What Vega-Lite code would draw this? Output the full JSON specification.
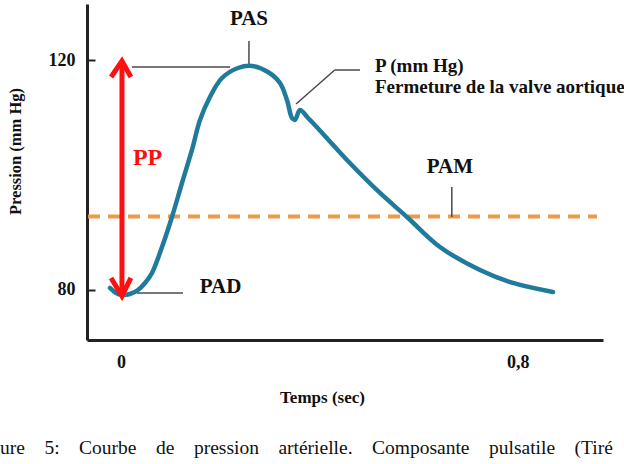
{
  "$schema": "https://vega.github.io/schema/vega-lite/v6.json",
  "autosize": {"type": "none"},
  "padding": {"left": 87, "top": 4, "right": 21, "bottom": 124},
  "width": 516,
  "height": 336,
  "background": "white",
  "config": {"view": {"stroke": null}, "font": "Liberation Serif, Times New Roman, serif"},
  "title": {
    "text": "Figure\u00a0\u00a0\u00a0\u00a05:\u00a0\u00a0\u00a0\u00a0Courbe\u00a0\u00a0\u00a0\u00a0de\u00a0\u00a0\u00a0\u00a0pression\u00a0\u00a0\u00a0\u00a0artérielle.\u00a0\u00a0\u00a0\u00a0Composante\u00a0\u00a0\u00a0\u00a0pulsatile\u00a0\u00a0\u00a0\u00a0(Tiré",
    "orient": "bottom",
    "anchor": "start",
    "frame": "group",
    "dx": -113,
    "offset": 49,
    "baseline": "alphabetic",
    "font": "Liberation Serif, Times New Roman, serif",
    "fontSize": 19.5,
    "fontWeight": "normal",
    "color": "#111"
  },
  "datasets": {
    "curve": [
      {"t": -0.0222, "p": 80.35},
      {"t": -0.0101, "p": 79.48},
      {"t": 0.0020, "p": 79.13},
      {"t": 0.0181, "p": 79.30},
      {"t": 0.0343, "p": 80.00},
      {"t": 0.0484, "p": 81.22},
      {"t": 0.0625, "p": 82.96},
      {"t": 0.0827, "p": 87.48},
      {"t": 0.1028, "p": 92.70},
      {"t": 0.1230, "p": 98.61},
      {"t": 0.1431, "p": 104.35},
      {"t": 0.1593, "p": 109.57},
      {"t": 0.1794, "p": 113.57},
      {"t": 0.2036, "p": 116.87},
      {"t": 0.2359, "p": 118.61},
      {"t": 0.2641, "p": 118.96},
      {"t": 0.2964, "p": 117.91},
      {"t": 0.3206, "p": 116.00},
      {"t": 0.3347, "p": 113.04},
      {"t": 0.3448, "p": 109.91},
      {"t": 0.3508, "p": 109.57},
      {"t": 0.3609, "p": 111.30},
      {"t": 0.3770, "p": 109.91},
      {"t": 0.3871, "p": 109.04},
      {"t": 0.4556, "p": 102.61},
      {"t": 0.5222, "p": 96.87},
      {"t": 0.5766, "p": 92.70},
      {"t": 0.6431, "p": 87.48},
      {"t": 0.7238, "p": 83.48},
      {"t": 0.7903, "p": 81.22},
      {"t": 0.8710, "p": 79.65}
    ],
    "leaders": [
      {"t": 0.022, "p": 118.78, "t2": 0.220, "p2": 118.78},
      {"t": 0.258, "p": 123.3, "t2": 0.258, "p2": 119.13},
      {"t": 0.353, "p": 112.35, "t2": 0.431, "p2": 118.26},
      {"t": 0.431, "p": 118.26, "t2": 0.482, "p2": 118.26},
      {"t": 0.667, "p": 97.9, "t2": 0.667, "p2": 92.7},
      {"t": 0.032, "p": 79.48, "t2": 0.125, "p2": 79.48}
    ],
    "pam": [{"t": -0.0665, "t2": 0.9597, "p": 92.8}],
    "shaft": [{"t": 0.002, "p": 119.4, "p2": 79.4}],
    "heads": [
      {"head": "top", "k": 1, "t": -0.020, "p": 117.04},
      {"head": "top", "k": 2, "t": 0.002, "p": 119.83},
      {"head": "top", "k": 3, "t": 0.020, "p": 117.04},
      {"head": "bottom", "k": 1, "t": -0.020, "p": 82.09},
      {"head": "bottom", "k": 2, "t": 0.002, "p": 78.96},
      {"head": "bottom", "k": 3, "t": 0.020, "p": 82.09}
    ],
    "bigLabels": [
      {"label": "PAS", "t": 0.258, "p": 126.1},
      {"label": "PAM", "t": 0.663, "p": 100.35}
    ],
    "padLabel": [{"label": "PAD", "t": 0.159, "p": 79.48}],
    "noteLabels": [
      {"label": "P (mm Hg)", "t": 0.512, "p": 117.9},
      {"label": "Fermeture de la valve aortique", "t": 0.512, "p": 114.3}
    ],
    "ppLabel": [{"label": "PP", "t": 0.024, "p": 101.74}]
  },
  "encoding": {
    "x": {
      "field": "t",
      "type": "quantitative",
      "scale": {"domain": [-0.0685, 0.9718], "nice": false, "zero": false},
      "axis": {
        "title": "Temps (sec)",
        "values": [0, 0.8],
        "labelExpr": "datum.value == 0 ? '0' : '0,8'",
        "grid": false,
        "ticks": false,
        "domainColor": "#222",
        "domainWidth": 3,
        "labelFont": "Liberation Serif, Times New Roman, serif",
        "labelFontSize": 18,
        "labelFontWeight": "bold",
        "labelColor": "#111",
        "labelPadding": 13,
        "labelFlush": false,
        "labelOverlap": false,
        "titleFont": "Liberation Serif, Times New Roman, serif",
        "titleFontSize": 17,
        "titleFontWeight": "bold",
        "titleColor": "#111",
        "titleX": 235,
        "titleY": 62,
        "titleBaseline": "alphabetic"
      }
    },
    "y": {
      "field": "p",
      "type": "quantitative",
      "scale": {"domain": [71.3, 129.74], "nice": false, "zero": false},
      "axis": {
        "title": "Pression (mm Hg)",
        "values": [80, 120],
        "grid": false,
        "tickSize": -8,
        "tickWidth": 2,
        "tickColor": "#222",
        "domainColor": "#222",
        "domainWidth": 3,
        "labelFont": "Liberation Serif, Times New Roman, serif",
        "labelFontSize": 18,
        "labelFontWeight": "bold",
        "labelColor": "#111",
        "labelPadding": 20,
        "labelFlush": false,
        "labelOverlap": false,
        "titleFont": "Liberation Serif, Times New Roman, serif",
        "titleFontSize": 16.5,
        "titleFontWeight": "bold",
        "titleColor": "#111",
        "titleX": -72,
        "titleY": 147,
        "titleBaseline": "middle"
      }
    }
  },
  "layer": [
    {
      "data": {"name": "pam"},
      "mark": {"type": "rule", "color": "#ec9a4a", "strokeWidth": 4, "strokeDash": [12, 8]},
      "encoding": {"x2": {"field": "t2"}}
    },
    {
      "data": {"name": "leaders"},
      "mark": {"type": "rule", "color": "#4a4a4a", "strokeWidth": 1.5},
      "encoding": {"x2": {"field": "t2"}, "y2": {"field": "p2"}}
    },
    {
      "data": {"name": "curve"},
      "mark": {"type": "line", "color": "#1f7a9c", "strokeWidth": 4.5, "interpolate": "catmull-rom", "strokeCap": "round"}
    },
    {
      "data": {"name": "shaft"},
      "mark": {"type": "rule", "color": "#ff1010", "strokeWidth": 5},
      "encoding": {"y2": {"field": "p2"}}
    },
    {
      "data": {"name": "heads"},
      "mark": {"type": "line", "color": "#ff1010", "strokeWidth": 5, "strokeJoin": "miter"},
      "encoding": {"detail": {"field": "head"}, "order": {"field": "k"}}
    },
    {
      "data": {"name": "bigLabels"},
      "mark": {"type": "text", "font": "Liberation Serif, Times New Roman, serif", "fontWeight": "bold", "fontSize": 21, "align": "center", "baseline": "alphabetic", "color": "#111"},
      "encoding": {"text": {"field": "label"}}
    },
    {
      "data": {"name": "padLabel"},
      "mark": {"type": "text", "font": "Liberation Serif, Times New Roman, serif", "fontWeight": "bold", "fontSize": 21, "align": "left", "baseline": "alphabetic", "color": "#111"},
      "encoding": {"text": {"field": "label"}}
    },
    {
      "data": {"name": "noteLabels"},
      "mark": {"type": "text", "font": "Liberation Serif, Times New Roman, serif", "fontWeight": "bold", "fontSize": 19, "align": "left", "baseline": "alphabetic", "color": "#111"},
      "encoding": {"text": {"field": "label"}}
    },
    {
      "data": {"name": "ppLabel"},
      "mark": {"type": "text", "font": "Liberation Serif, Times New Roman, serif", "fontWeight": "bold", "fontSize": 24, "align": "left", "baseline": "alphabetic", "color": "#ff1010"},
      "encoding": {"text": {"field": "label"}}
    }
  ]
}
